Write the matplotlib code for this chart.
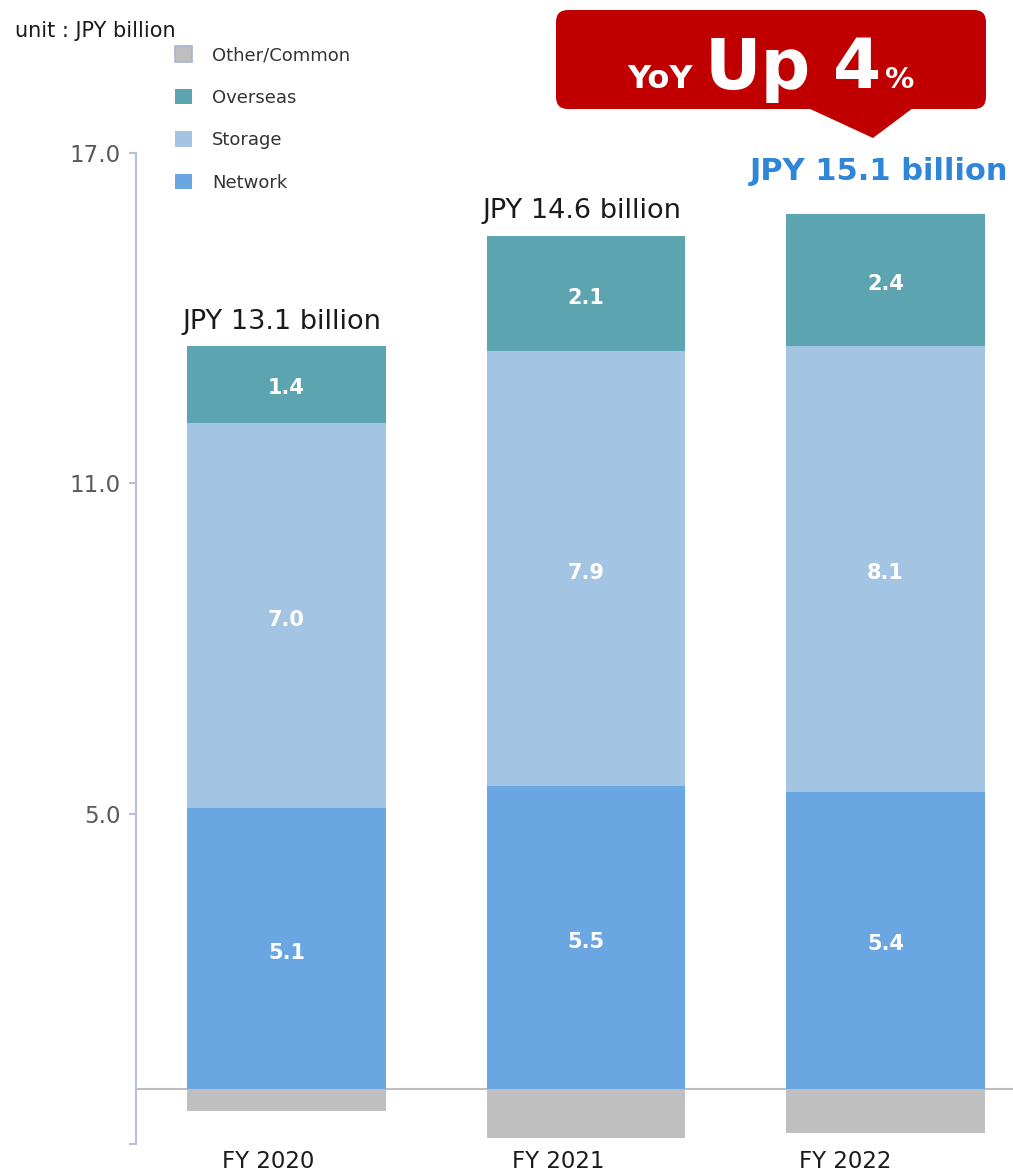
import matplotlib
matplotlib.use("Agg")
import matplotlib.pyplot as plt
import matplotlib.transforms as mtransforms
from matplotlib.patches import Patch, FancyBboxPatch, Polygon

plt.rcParams['font.family'] = ['DejaVu Sans']

# sales by segment, JPY billion
years = ['FY 2020', 'FY 2021', 'FY 2022']
network = [5.1, 5.5, 5.4]
storage = [7.0, 7.9, 8.1]
overseas = [1.4, 2.1, 2.4]
other = [-0.4, -0.9, -0.8]
yticks = [-1.0, 5.0, 11.0, 17.0]
ytick_labels = ['', '5.0', '11.0', '17.0']

c_net = '#69a6e2'
c_sto = '#a3c4e2'
c_ovs = '#5ba4b0'
c_oth = '#bfbfbf'
c_axis = '#b7c2d8'

W, H = 1013, 1173
fig = plt.figure(figsize=(W / 100, H / 100), dpi=100)
ax = fig.add_axes([136 / W, (H - 1144) / H, (W - 136) / W, (1144 - 153) / H])

x = list(range(len(years)))
bw = 0.664
ax.bar(x, other, bw, color=c_oth, zorder=2)
ax.bar(x, network, bw, color=c_net, zorder=2)
ax.bar(x, storage, bw, bottom=network, color=c_sto, zorder=2)
base3 = [n + s for n, s in zip(network, storage)]
ax.bar(x, overseas, bw, bottom=base3, color=c_ovs, zorder=2)

# segment values inside bars
for i in x:
    for val, bot in ((network[i], 0), (storage[i], network[i]), (overseas[i], base3[i])):
        ax.annotate(f'{val:.1f}', (i, bot + val / 2), xytext=(0, -3),
                    textcoords='offset points', ha='center', va='center',
                    color='white', fontsize=15, fontweight='bold', zorder=3)

# totals above bars
totals = [n + s + o + t for n, s, o, t in zip(network, storage, overseas, other)]
tops = [b + o for b, o in zip(base3, overseas)]
for i in x:
    if i == len(x) - 1:
        ax.annotate(f'JPY {totals[i]:.1f} billion', (i, tops[i]), xytext=(-5, 20),
                    textcoords='offset points', ha='center', va='bottom',
                    fontsize=22, fontweight='bold', color='#2f86d8', annotation_clip=False)
    else:
        ax.annotate(f'JPY {totals[i]:.1f} billion', (i, tops[i]), xytext=(-3, 8),
                    textcoords='offset points', ha='center', va='bottom',
                    fontsize=19.5, color='#1a1a1a', annotation_clip=False)

ax.axhline(0, color=c_oth, lw=1.5, zorder=1)

ax.set_xlim(-0.5025, 2.4257)
ax.set_ylim(-1.0, 17.0)
ax.set_xticks(x)
ax.set_xticklabels(years, fontsize=16.5, color='#1a1a1a')
ax.set_yticks(yticks)
ax.set_yticklabels(ytick_labels, fontsize=16.5, color='#595959')
ax.tick_params(axis='x', length=0, pad=4)
ax.tick_params(axis='y', length=5, width=1.5, color=c_axis, pad=6)

# category labels sit a little left of the bar centres
for lab, dx in zip(ax.get_xticklabels(), [-18, -28, -40]):
    lab.set_transform(lab.get_transform() +
                      mtransforms.ScaledTranslation(dx / 100, 0, fig.dpi_scale_trans))

for s in ('top', 'right', 'bottom'):
    ax.spines[s].set_visible(False)
ax.spines['left'].set_color(c_axis)
ax.spines['left'].set_linewidth(1.5)
ax.patch.set_visible(False)

fig.text(15 / W, 1 - 31 / H, 'unit : JPY billion', fontsize=15, color='#1a1a1a',
         ha='left', va='center')

handles = [Patch(facecolor=c_oth, edgecolor='#aab4d4', lw=1.2, label='Other/Common'),
           Patch(facecolor=c_ovs, label='Overseas'),
           Patch(facecolor=c_sto, label='Storage'),
           Patch(facecolor=c_net, label='Network')]
fig.legend(handles=handles, loc='upper left', bbox_to_anchor=(175 / W, 1 - 46 / H),
           frameon=False, fontsize=13, handlelength=0.95, handleheight=0.95,
           handletextpad=1.1, labelspacing=1.36, borderpad=0, borderaxespad=0,
           labelcolor='#333333')

# YoY callout
ov = fig.add_axes([0, 0, 1, 1])
ov.set_xlim(0, W)
ov.set_ylim(H, 0)
ov.axis('off')
red = '#c00000'
ov.add_patch(FancyBboxPatch((566, 20), 410, 79, boxstyle='round,pad=10,rounding_size=12',
                            facecolor=red, edgecolor='none'))
ov.add_patch(Polygon([(808, 108), (913, 108), (873, 138)], closed=True,
                     facecolor=red, edgecolor='none'))
ov.text(660, 88, 'YoY', ha='center', va='baseline', color='white', fontsize=23, fontweight='bold')
ov.text(758, 89, 'Up', ha='center', va='baseline', color='white', fontsize=50, fontweight='bold')
ov.text(857, 88, '4', ha='center', va='baseline', color='white', fontsize=50, fontweight='bold')
ov.text(900, 88, '%', ha='center', va='baseline', color='white', fontsize=21, fontweight='bold')

fig.savefig('out.png', dpi=100)
